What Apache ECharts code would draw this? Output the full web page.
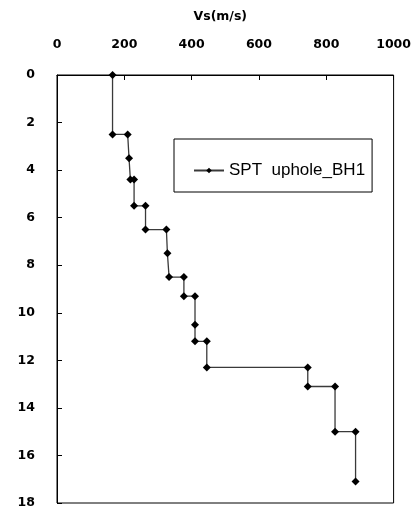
<!DOCTYPE html>
<html>
<head>
<meta charset="utf-8">
<script src="https://cdn.jsdelivr.net/npm/echarts@6/dist/echarts.min.js"></script>
<style>
  html, body { margin: 0; padding: 0; background: #fff; }
  #chart { width: 414px; height: 511px; }
</style>
</head>
<body>
<div id="chart"></div>
<script>
// Shear-wave velocity profile, borehole BH1 (step plot, depth downward)
const seriesName = 'SPT  uphole_BH1';
const depth = [0, 2.5, 2.5, 3.5, 4.4, 4.4, 5.5, 5.5, 6.5, 6.5, 7.5, 8.5, 8.5, 9.3, 9.3, 10.5, 11.2, 11.2, 12.3, 12.3, 13.1, 13.1, 15.0, 15.0, 17.1];
const vs    = [165, 165, 210, 214, 218, 229, 229, 263, 263, 325, 328, 333, 377, 377, 410, 410, 410, 445, 445, 745, 745, 826, 826, 887, 887];
const xTicks = [0, 200, 400, 600, 800, 1000];
const yTicks = [0, 2, 4, 6, 8, 10, 12, 14, 16, 18];

const points = vs.map((v, i) => [v, depth[i]]);
const labelFont = { fontFamily: 'DejaVu Sans', fontWeight: 'bold', fontSize: 12.5, color: '#000' };

const chart = echarts.init(document.getElementById('chart'), null, { renderer: 'canvas' });
chart.setOption({
  animation: false,
  backgroundColor: '#fff',
  grid: {
    left: 57, top: 75, right: 20, bottom: 8,
    show: true, borderColor: '#000', borderWidth: 1
  },
  legend: {
    data: [seriesName],
    left: 174, top: 139,
    padding: [23, 7, 13, 19],
    borderColor: '#000', borderWidth: 1,
    itemWidth: 30, itemHeight: 7, itemGap: 4,
    textStyle: { fontFamily: 'Liberation Sans', fontSize: 17, color: '#000' }
  },
  xAxis: {
    type: 'value', position: 'top',
    min: xTicks[0], max: xTicks[xTicks.length - 1], interval: 200,
    name: 'Vs(m/s)', nameLocation: 'middle', nameGap: 52,
    nameTextStyle: Object.assign({ padding: [0, 10, 0, 0] }, labelFont),
    axisLine: { show: true, lineStyle: { color: '#000', width: 1 } },
    axisTick: { show: true, inside: true, length: 5, lineStyle: { color: '#000' } },
    axisLabel: Object.assign({ margin: 24, formatter: v => String(v) }, labelFont),
    splitLine: { show: false }
  },
  yAxis: {
    type: 'value', inverse: true,
    min: yTicks[0], max: yTicks[yTicks.length - 1], interval: 2,
    axisLine: { show: true, lineStyle: { color: '#000', width: 1 } },
    axisTick: { show: true, inside: true, length: 5, lineStyle: { color: '#000' } },
    axisLabel: Object.assign({ margin: 22, formatter: v => String(v) }, labelFont),
    splitLine: { show: false }
  },
  series: [{
    name: seriesName,
    type: 'line',
    data: points,
    symbol: 'diamond',
    symbolSize: 8,
    itemStyle: { color: '#000' },
    lineStyle: { color: '#3a3a3a', width: 1.3 }
  }]
});
</script>
</body>
</html>
